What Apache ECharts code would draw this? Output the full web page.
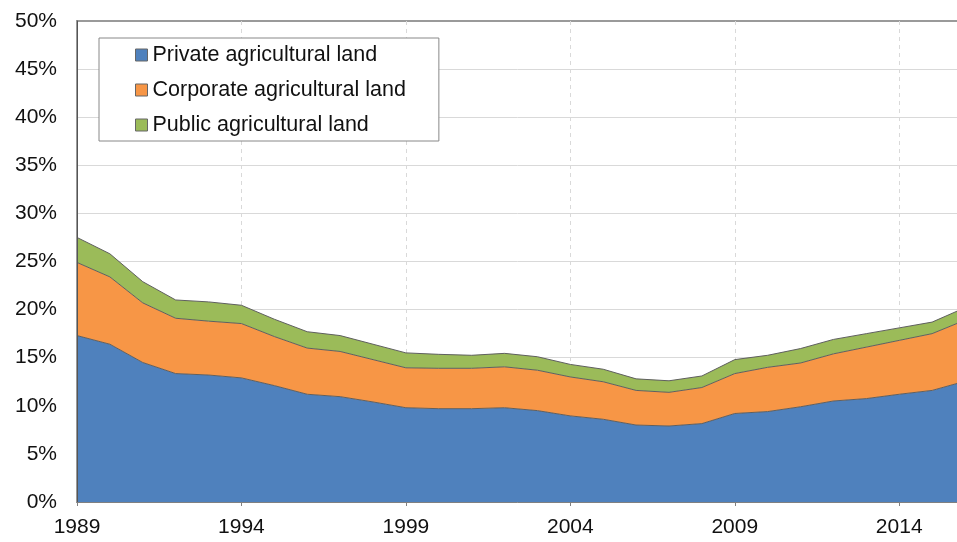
<!DOCTYPE html>
<html>
<head>
<meta charset="utf-8">
<script src="https://cdn.jsdelivr.net/npm/echarts@6/dist/echarts.min.js"></script>
<style>
html,body{margin:0;padding:0;background:#fff;}
#chart{width:957px;height:542px;}
</style>
</head>
<body>
<div id="chart"></div>
<script>
var years = ['1989','1990','1991','1992','1993','1994','1995','1996','1997','1998','1999','2000','2001','2002','2003','2004','2005','2006','2007','2008','2009','2010','2011','2012','2013','2014','2015','2016'];
var privateLand = [17.3,16.4,14.5,13.35,13.2,12.9,12.1,11.2,10.95,10.4,9.8,9.7,9.7,9.8,9.5,8.95,8.6,8.0,7.9,8.15,9.2,9.4,9.9,10.5,10.75,11.2,11.6,12.55];
var corporateLand = [7.6,7.0,6.2,5.75,5.6,5.65,5.1,4.8,4.7,4.4,4.15,4.2,4.2,4.25,4.2,4.05,3.9,3.6,3.5,3.75,4.15,4.6,4.55,4.9,5.35,5.6,5.9,6.35];
var publicLand = [2.6,2.4,2.2,1.9,2.0,1.9,1.8,1.7,1.65,1.6,1.55,1.45,1.35,1.4,1.4,1.3,1.3,1.2,1.2,1.2,1.45,1.25,1.5,1.5,1.4,1.3,1.2,1.3];
var seriesNames = ['Private agricultural land','Corporate agricultural land','Public agricultural land'];
var seriesColors = ['#4F81BD','#F79646','#9BBB59'];
var seriesData = [privateLand, corporateLand, publicLand];

var chart = echarts.init(document.getElementById('chart'), null, {renderer:'canvas'});
var FONT = 'Liberation Sans, Arial, sans-serif';
var splitColors = [];
for (var i = 0; i < 10; i++) splitColors.push('#d9d9d9');
splitColors.push('#9a9a9a');

var series = seriesNames.map(function(n, i){
  return {
    name: n,
    type: 'line',
    stack: 'total',
    data: seriesData[i],
    symbol: 'none',
    smooth: false,
    color: seriesColors[i],
    itemStyle: {color: seriesColors[i]},
    lineStyle: {color: '#5f5f5f', width: 1},
    areaStyle: {color: seriesColors[i], opacity: 1},
    z: 2
  };
});

chart.setOption({
  animation: false,
  backgroundColor: '#fff',
  grid: {left: 77, top: 21, height: 481, width: 888, outerBoundsMode: 'none', containLabel: false, show: true, borderColor: '#9a9a9a', borderWidth: 2, backgroundColor: 'transparent'},
  legend: {
    orient: 'vertical',
    left: 99, top: 38,
    padding: [6, 33, 5, 36],
    itemGap: 13,
    itemWidth: 12, itemHeight: 12,
    icon: 'rect',
    borderColor: '#888', borderWidth: 1,
    backgroundColor: '#fff',
    z: 10,
    textStyle: {fontFamily: FONT, fontSize: 21.5, color: '#111'},
    data: seriesNames.map(function(n, i){ return {name: n, itemStyle: {color: seriesColors[i], borderColor: '#666', borderWidth: 1}}; })
  },
  xAxis: [{
    type: 'category',
    data: years,
    boundaryGap: false,
    axisLine: {show: false},
    axisTick: {show: false},
    axisLabel: {interval: 4, margin: 15, fontFamily: FONT, fontSize: 21, color: '#111'},
    splitLine: {show: true, interval: 4, lineStyle: {color: '#d9d9d9', type: [4,4], width: 1}}
  }, {
    type: 'category',
    data: years,
    position: 'bottom',
    boundaryGap: false,
    axisLine: {lineStyle: {color: '#808080', width: 1}},
    axisTick: {show: true, interval: 4, length: 4, lineStyle: {color: '#808080'}},
    axisLabel: {show: false},
    splitLine: {show: false},
    z: 5
  }],
  yAxis: [{
    type: 'value',
    min: 0, max: 50, interval: 5,
    axisLine: {show: false},
    axisTick: {show: false},
    axisLabel: {margin: 20, fontFamily: FONT, fontSize: 21, color: '#111', formatter: '{value}%'},
    splitLine: {show: true, lineStyle: {color: splitColors, width: 1}}
  }, {
    type: 'value',
    position: 'left',
    min: 0, max: 50, interval: 5,
    axisLine: {show: true, lineStyle: {color: '#555', width: 1}},
    axisTick: {show: false},
    axisLabel: {show: false},
    splitLine: {show: false},
    z: 5
  }],
  series: series
});
</script>
</body>
</html>
